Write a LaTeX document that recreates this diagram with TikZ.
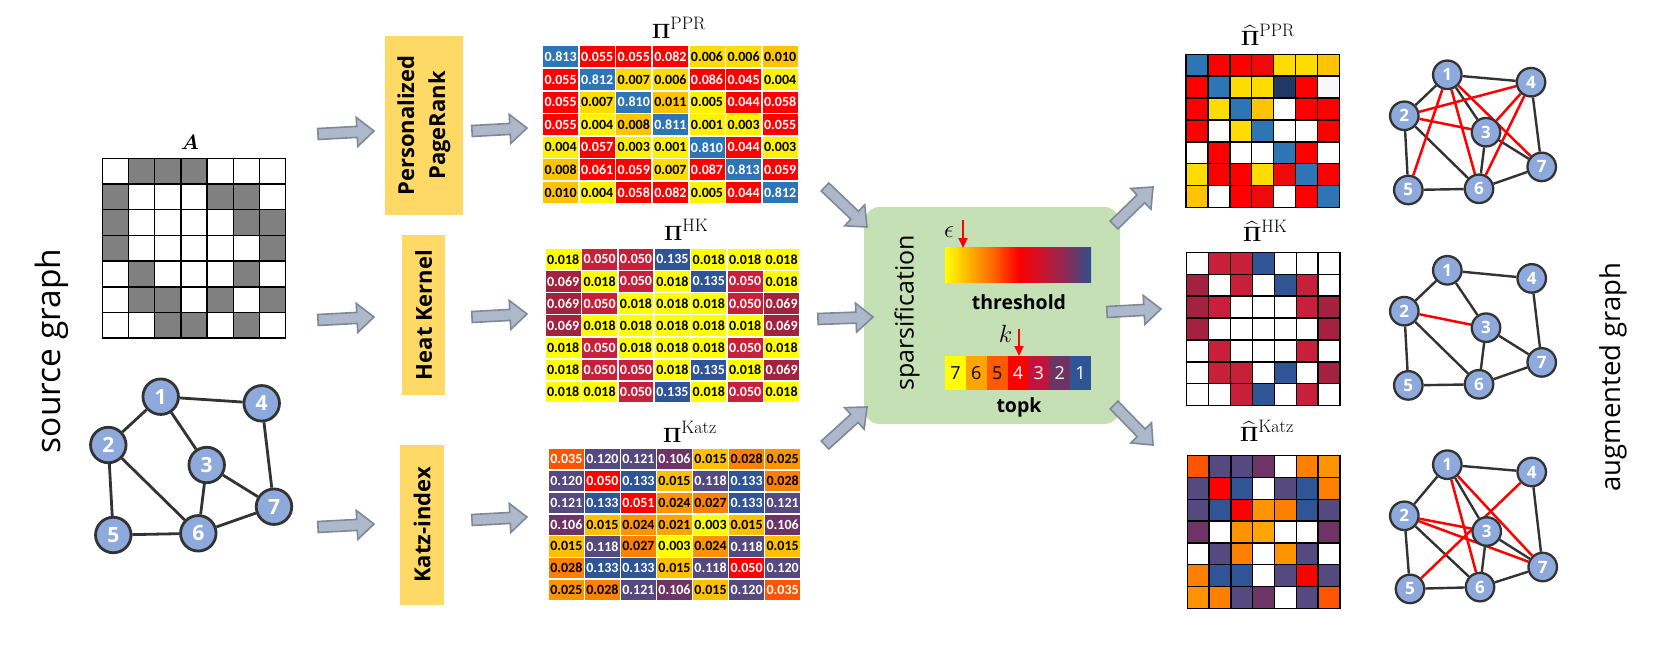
\documentclass[tikz,border=0pt]{standalone}
\usepackage{amsmath}
\usepackage[no-math]{fontspec}
\newfontfamily\osans{Open Sans}
\newfontfamily\carl{Carlito}
\usetikzlibrary{calc,arrows.meta}
\pgfdeclarelayer{bg}
\pgfsetlayers{bg,main}

\definecolor{pB}{HTML}{2E75B6}
\definecolor{pR}{HTML}{FF0000}
\definecolor{pR2}{HTML}{EE0A0A}
\definecolor{pY1}{HTML}{FFF200}
\definecolor{pY2}{HTML}{FFDC00}
\definecolor{pG}{HTML}{FFC400}
\definecolor{pN}{HTML}{203864}
\definecolor{pW2}{HTML}{F7F8FA}
\definecolor{hY}{HTML}{FFFF00}
\definecolor{hC}{HTML}{C8203A}
\definecolor{hM}{HTML}{A2223F}
\definecolor{hB}{HTML}{2F5597}
\definecolor{kOR}{HTML}{FF5500}
\definecolor{kP}{HTML}{544A7F}
\definecolor{kPL}{HTML}{6E3466}
\definecolor{kG}{HTML}{FFC000}
\definecolor{kO1}{HTML}{FF8000}
\definecolor{kO2}{HTML}{FF9300}
\definecolor{kO3}{HTML}{FFA500}
\definecolor{kY}{HTML}{FFFF00}
\definecolor{kR}{HTML}{FF0000}
\definecolor{boxY}{HTML}{FFD966}
\definecolor{sparG}{HTML}{C5E0B4}
\definecolor{nodeB}{HTML}{8EA9DB}
\definecolor{nodeD}{HTML}{333333}
\definecolor{arrF}{HTML}{ADB9CA}
\definecolor{arrD}{HTML}{7F8896}
\definecolor{aGray}{HTML}{808080}
\definecolor{tk7}{HTML}{FFFF00}
\definecolor{tk6}{HTML}{FFA500}
\definecolor{tk5}{HTML}{FF5A00}
\definecolor{tk4}{HTML}{FF0000}
\definecolor{tk3}{HTML}{C0143C}
\definecolor{tk2}{HTML}{6C3461}
\definecolor{tk1}{HTML}{2F5597}
\definecolor{gr1}{HTML}{FFFF00}
\definecolor{gr2}{HTML}{FFB000}
\definecolor{gr3}{HTML}{FF6400}
\definecolor{gr4}{HTML}{FF0000}
\definecolor{gr5}{HTML}{C81430}
\definecolor{gr6}{HTML}{882C58}
\definecolor{gr7}{HTML}{2F4F8F}

\tikzset{
  vcell/.style={draw=white, line width=1.6pt, inner sep=0pt, font=\carl\bfseries\fontsize{14}{14}\selectfont},
  scell/.style={draw=black, line width=1.4pt, inner sep=0pt},
  acell/.style={draw=black, line width=1.5pt, inner sep=0pt},
  mbox/.style={fill=boxY, rotate=90, align=center, inner sep=0pt, font=\osans\bfseries\fontsize{22}{31}\selectfont},
  barrow/.style={fill=arrF, draw=arrD, line width=1.6pt, line join=miter},
  gnode/.style={circle, draw=nodeD, fill=nodeB, text=white, inner sep=0pt, line width=2.8pt, minimum size=35.5pt, font=\osans\bfseries\fontsize{21}{21}\selectfont},
  rnode/.style={gnode, line width=2.3pt, minimum size=28.5pt, font=\osans\bfseries\fontsize{17}{17}\selectfont},
  gedge/.style={draw=nodeD, line width=2.8pt},
  redge/.style={draw=red, line width=2.5pt},
  redarr/.style={draw=red, line width=2.2pt, -{Triangle[width=9pt,length=10pt]}},
  mtitle/.style={anchor=base west, inner sep=0pt},
  tkcell/.style={inner sep=0pt, minimum width=20.857pt, minimum height=34.3pt, font=\osans\fontsize{18}{18}\selectfont},
  biglabel/.style={rotate=90, inner sep=0pt, font=\osans\fontsize{30}{30}\selectfont},
}

% title text: Pi with superscript
\newcommand{\pititle}[1]{{\fontsize{21}{21}\selectfont$\boldsymbol{\Pi}$}\raisebox{9pt}{\fontsize{18}{18}\selectfont #1}}
\newcommand{\pihtitle}[1]{{\fontsize{21}{21}\selectfont$\widehat{\boldsymbol{\Pi}}$}\raisebox{9pt}{\fontsize{18}{18}\selectfont #1}}

% value matrix: name, x0, y0, w, h, rows
\newcommand{\valmatrix}[6]{%
  \foreach \row [count=\mr from 0] in {#6} {
    \foreach \v/\fc/\tc [count=\mc from 0] in \row {
      \node[vcell, fill=\fc, text=\tc, minimum width=#4pt, minimum height=#5pt]
        (#1-\mr-\mc) at ({#2+(\mc+0.5)*#4},{#3+(\mr+0.5)*#5}) {\v};
    }
  }
}
% colour matrix: name, x0, y0, w, h, style, rows
\newcommand{\colmatrix}[7]{%
  \foreach \row [count=\mr from 0] in {#7} {
    \foreach \fc [count=\mc from 0] in \row {
      \node[#6, fill=\fc, minimum width=#4pt, minimum height=#5pt]
        (#1-\mr-\mc) at ({#2+(\mc+0.5)*#4},{#3+(\mr+0.5)*#5}) {};
    }
  }
}
% block arrow between two named coordinates
\newcommand{\blockarr}[2]{%
  \coordinate (bac) at ($(#2)!17pt!(#1)$);
  \draw[barrow] ($(#1)!5.5pt!90:(#2)$) -- ($(bac)!5.5pt!90:(#2)$) -- ($(bac)!14.5pt!90:(#2)$)
    -- (#2) -- ($(bac)!14.5pt!-90:(#2)$) -- ($(bac)!5.5pt!-90:(#2)$) -- ($(#1)!5.5pt!-90:(#2)$) -- cycle;
}
\newcommand{\baseedges}[2]{%
  \foreach \ea/\eb in {1/2,1/4,1/3,2/5,2/6,3/6,3/7,4/7,5/6,6/7} {\draw[gedge,#2] (#1\ea) -- (#1\eb);}
}

\begin{document}
\begin{tikzpicture}[x=1pt,y=-1pt]
\useasboundingbox (0,0) rectangle (1653,647);
\begin{pgfonlayer}{bg}
\fill[white] (0,0) rectangle (1653,647);
\end{pgfonlayer}

% ---------- left: source graph ----------
\node[biglabel, font=\osans\fontsize{33.5}{34}\selectfont] (srclabel) at (52,351) {source graph};

\node[inner sep=0pt, anchor=base, font=\fontsize{22}{22}\selectfont] (alabel) at (190,149.3) {$\boldsymbol{A}$};
\colmatrix{A}{102.3}{158.3}{26.2}{25.7}{acell}{
 {white,aGray,aGray,aGray,white,white,white},
 {aGray,white,white,white,aGray,aGray,white},
 {aGray,white,white,white,white,aGray,aGray},
 {aGray,white,white,white,white,white,aGray},
 {white,aGray,white,white,white,aGray,white},
 {white,aGray,aGray,white,aGray,white,aGray},
 {white,white,aGray,aGray,white,aGray,white}}

\node[gnode] (gs1) at (160.7,396.7) {1};
\node[gnode] (gs2) at (108.3,445) {2};
\node[gnode] (gs3) at (206.7,465) {3};
\node[gnode] (gs4) at (261.7,403.3) {4};
\node[gnode] (gs5) at (113.3,535) {5};
\node[gnode] (gs6) at (198.3,533.3) {6};
\node[gnode] (gs7) at (274,506.7) {7};
\begin{pgfonlayer}{bg}
\baseedges{gs}{}
\end{pgfonlayer}

% ---------- method boxes ----------
\node[mbox, minimum width=179pt, minimum height=78pt] (mppr) at (424,125.5) {Personalized\\PageRank};
\node[mbox, minimum width=160pt, minimum height=43pt] (mhk) at (423.5,315) {Heat Kernel};
\node[mbox, minimum width=160pt, minimum height=44pt] (mkatz) at (422,525) {Katz-index};

\coordinate (a1t) at (318,134); \coordinate (a1h) at (374,131);
\coordinate (a2t) at (318,320); \coordinate (a2h) at (374,317);
\coordinate (a3t) at (318,527); \coordinate (a3h) at (374,524);
\coordinate (b1t) at (472,131); \coordinate (b1h) at (527,128);
\coordinate (b2t) at (472,317); \coordinate (b2h) at (527,314);
\coordinate (b3t) at (472,520); \coordinate (b3h) at (527,517);
\blockarr{a1t}{a1h}
\blockarr{a2t}{a2h}
\blockarr{a3t}{a3h}
\blockarr{b1t}{b1h}
\blockarr{b2t}{b2h}
\blockarr{b3t}{b3h}

% ---------- value matrices ----------
\node[mtitle] (tppr) at (652,39) {\pititle{PPR}};
\valmatrix{ppr}{542.3}{45.7}{36.6}{22.6}{
 {0.813/pB/white,0.055/pR/white,0.055/pR/white,0.082/pR/white,0.006/pY2/black,0.006/pY2/black,0.010/pG/black},
 {0.055/pR/white,0.812/pB/white,0.007/pY2/black,0.006/pY2/black,0.086/pR/white,0.045/pR/white,0.004/pY1/black},
 {0.055/pR/white,0.007/pY2/black,0.810/pB/white,0.011/pG/black,0.005/pY1/black,0.044/pR/white,0.058/pR/white},
 {0.055/pR/white,0.004/pY1/black,0.008/pG/black,0.811/pB/white,0.001/pY1/black,0.003/pY1/black,0.055/pR/white},
 {0.004/pY1/black,0.057/pR/white,0.003/pY1/black,0.001/pY1/black,0.810/pB/white,0.044/pR/white,0.003/pY1/black},
 {0.008/pG/black,0.061/pR/white,0.059/pR/white,0.007/pY2/black,0.087/pR/white,0.813/pB/white,0.059/pR/white},
 {0.010/pG/black,0.004/pY1/black,0.058/pR/white,0.082/pR/white,0.005/pY1/black,0.044/pR/white,0.812/pB/white}}

\node[mtitle] (thk) at (664,240) {\pititle{HK}};
\valmatrix{hk}{545}{248.3}{36.4}{22.1}{
 {0.018/hY/black,0.050/hC/white,0.050/hC/white,0.135/hB/white,0.018/hY/black,0.018/hY/black,0.018/hY/black},
 {0.069/hM/white,0.018/hY/black,0.050/hC/white,0.018/hY/black,0.135/hB/white,0.050/hC/white,0.018/hY/black},
 {0.069/hM/white,0.050/hC/white,0.018/hY/black,0.018/hY/black,0.018/hY/black,0.050/hC/white,0.069/hM/white},
 {0.069/hM/white,0.018/hY/black,0.018/hY/black,0.018/hY/black,0.018/hY/black,0.018/hY/black,0.069/hM/white},
 {0.018/hY/black,0.050/hC/white,0.018/hY/black,0.018/hY/black,0.018/hY/black,0.050/hC/white,0.018/hY/black},
 {0.018/hY/black,0.050/hC/white,0.050/hC/white,0.018/hY/black,0.135/hB/white,0.018/hY/black,0.069/hM/white},
 {0.018/hY/black,0.018/hY/black,0.050/hC/white,0.135/hB/white,0.018/hY/black,0.050/hC/white,0.018/hY/black}}

\node[mtitle] (tkatz) at (663,442) {\pititle{Katz}};
\valmatrix{katz}{548.3}{448.3}{36.05}{21.8}{
 {0.035/kOR/white,0.120/kP/white,0.121/kP/white,0.106/kPL/white,0.015/kG/black,0.028/kO1/black,0.025/kO2/black},
 {0.120/kP/white,0.050/kR/white,0.133/hB/white,0.015/kG/black,0.118/kP/white,0.133/hB/white,0.028/kO1/black},
 {0.121/kP/white,0.133/hB/white,0.051/kR/white,0.024/kO2/black,0.027/kO1/black,0.133/hB/white,0.121/kP/white},
 {0.106/kPL/white,0.015/kG/black,0.024/kO2/black,0.021/kO3/black,0.003/kY/black,0.015/kG/black,0.106/kPL/white},
 {0.015/kG/black,0.118/kP/white,0.027/kO1/black,0.003/kY/black,0.024/kO2/black,0.118/kP/white,0.015/kG/black},
 {0.028/kO1/black,0.133/hB/white,0.133/hB/white,0.015/kG/black,0.118/kP/white,0.050/kR/white,0.120/kP/white},
 {0.025/kO2/black,0.028/kO1/black,0.121/kP/white,0.106/kPL/white,0.015/kG/black,0.120/kP/white,0.035/kOR/white}}

% ---------- sparsification ----------
\node[fill=sparG, rounded corners=16pt, minimum width=256pt, minimum height=217pt, inner sep=0pt] (spars) at (992,315.5) {};
\node[biglabel, font=\osans\fontsize{25}{25}\selectfont] (sparlabel) at (907,313) {sparsification};

\shade[left color=gr1, right color=gr2] (945,247.7) rectangle (970.2,282.7);
\shade[left color=gr2, right color=gr3] (969.8,247.7) rectangle (993.6,282.7);
\shade[left color=gr3, right color=gr4] (993.2,247.7) rectangle (1018.4,282.7);
\shade[left color=gr4, right color=gr5] (1018,247.7) rectangle (1043.2,282.7);
\shade[left color=gr5, right color=gr6] (1042.8,247.7) rectangle (1066.6,282.7);
\shade[left color=gr6, right color=gr7] (1066.2,247.7) rectangle (1091,282.7);

\node[inner sep=0pt, font=\fontsize{26}{26}\selectfont] (eps) at (949,232) {$\epsilon$};
\coordinate (epsA) at (963,220); \coordinate (epsB) at (963,248);
\draw[redarr] (epsA) -- (epsB);
\node[inner sep=0pt, font=\osans\bfseries\fontsize{19.5}{20}\selectfont] (thr) at (1019,302) {threshold};

\node[inner sep=0pt, font=\fontsize{24}{24}\selectfont] (kk) at (1005.5,334) {$k$};
\coordinate (kA) at (1019,329); \coordinate (kB) at (1019,356);
\foreach \dig/\fc/\tc [count=\mc from 0] in {7/tk7/black,6/tk6/black,5/tk5/black,4/tk4/white,3/tk3/white,2/tk2/white,1/tk1/white}
  \node[tkcell, fill=\fc, text=\tc] (tk\dig) at ({945+(\mc+0.5)*20.857},372.9) {\dig};
\draw[redarr] (kA) -- (kB);
\node[inner sep=0pt, font=\osans\bfseries\fontsize{19.5}{20}\selectfont] (topk) at (1019,407) {topk};

\coordinate (c1t) at (825,187); \coordinate (c1h) at (867,227);
\coordinate (c2t) at (818,319); \coordinate (c2h) at (873,317);
\coordinate (c3t) at (825,445); \coordinate (c3h) at (867,407);
\coordinate (d1t) at (1114,225); \coordinate (d1h) at (1153,187);
\coordinate (d2t) at (1107,312); \coordinate (d2h) at (1161,309);
\coordinate (d3t) at (1114,405); \coordinate (d3h) at (1153,445);
\blockarr{c1t}{c1h}
\blockarr{c2t}{c2h}
\blockarr{c3t}{c3h}
\blockarr{d1t}{d1h}
\blockarr{d2t}{d2h}
\blockarr{d3t}{d3h}

% ---------- sparsified matrices ----------
\node[mtitle] (tpprh) at (1241,46) {\pihtitle{PPR}};
\colmatrix{pprh}{1186}{54.3}{21.9}{21.9}{scell}{
 {pB,pR,pR,pR2,pY2,pY2,pG},
 {pR,pB,pY2,pY2,pN,pR,pW2},
 {pR,pY2,pB,pG,white,pR,pR},
 {pR,white,pY2,pB,white,white,pR},
 {white,pR,white,white,pB,pR,white},
 {pY2,pR,pR,pY2,pR2,pB,pR},
 {pG,white,pR,pR2,white,pR,pB}}

\node[mtitle] (thkh) at (1243,241.7) {\pihtitle{HK}};
\colmatrix{hkh}{1186.7}{252.3}{21.9}{21.9}{scell}{
 {white,hC,hC,hB,white,white,white},
 {hM,white,hC,white,hB,hC,white},
 {hM,hC,white,white,white,hC,hM},
 {hM,white,white,white,white,white,hM},
 {white,hC,white,white,white,hC,white},
 {white,hC,hC,white,hB,white,hM},
 {white,white,hC,hB,white,hC,white}}

\node[mtitle] (tkatzh) at (1240,441.7) {\pihtitle{Katz}};
\colmatrix{katzh}{1187.3}{455.7}{21.8}{21.8}{scell}{
 {kOR,kP,kP,kPL,white,kO1,kO2},
 {kP,kR,hB,white,kP,hB,kO1},
 {kP,hB,kR,kO2,kO1,hB,kP},
 {kPL,white,kO2,kO3,white,white,kPL},
 {white,kP,kO1,white,kO2,kP,white},
 {kO1,hB,hB,white,kP,kR,kP},
 {kO2,kO1,kP,kPL,white,kP,kOR}}

% ---------- augmented graphs ----------
\node[rnode] (gp1) at (1447.3,74.8) {1};
\node[rnode] (gp2) at (1404.3,115.8) {2};
\node[rnode] (gp3) at (1486,132.2) {3};
\node[rnode] (gp4) at (1531,82.2) {4};
\node[rnode] (gp5) at (1408.3,190) {5};
\node[rnode] (gp6) at (1479,188.8) {6};
\node[rnode] (gp7) at (1541.7,166.9) {7};

\node[rnode] (gh1) at (1447.3,270.3) {1};
\node[rnode] (gh2) at (1404.3,311.2) {2};
\node[rnode] (gh3) at (1486,327.7) {3};
\node[rnode] (gh4) at (1531.7,278.4) {4};
\node[rnode] (gh5) at (1408.3,385.4) {5};
\node[rnode] (gh6) at (1479,384.3) {6};
\node[rnode] (gh7) at (1541.7,362.4) {7};

\node[rnode] (gk1) at (1447.3,464.7) {1};
\node[rnode] (gk2) at (1404.3,515.8) {2};
\node[rnode] (gk3) at (1486.7,531.5) {3};
\node[rnode] (gk4) at (1531.7,472) {4};
\node[rnode] (gk5) at (1410,588.9) {5};
\node[rnode] (gk6) at (1480,587.1) {6};
\node[rnode] (gk7) at (1542.7,567) {7};

\begin{pgfonlayer}{bg}
\baseedges{gp}{line width=2.4pt}
\baseedges{gh}{line width=2.4pt}
\baseedges{gk}{line width=2.4pt}
\foreach \ea/\eb in {1/5,1/6,1/7,2/4,2/3,4/3,4/6} {\draw[redge] (gp\ea) -- (gp\eb);}
\foreach \ea/\eb in {2/3} {\draw[redge] (gh\ea) -- (gh\eb);}
\foreach \ea/\eb in {1/6,1/7,2/3,2/7,4/5} {\draw[redge] (gk\ea) -- (gk\eb);}
\end{pgfonlayer}

\node[biglabel, font=\osans\fontsize{27.5}{28}\selectfont] (auglabel) at (1613,377) {augmented graph};
\end{tikzpicture}
\end{document}
